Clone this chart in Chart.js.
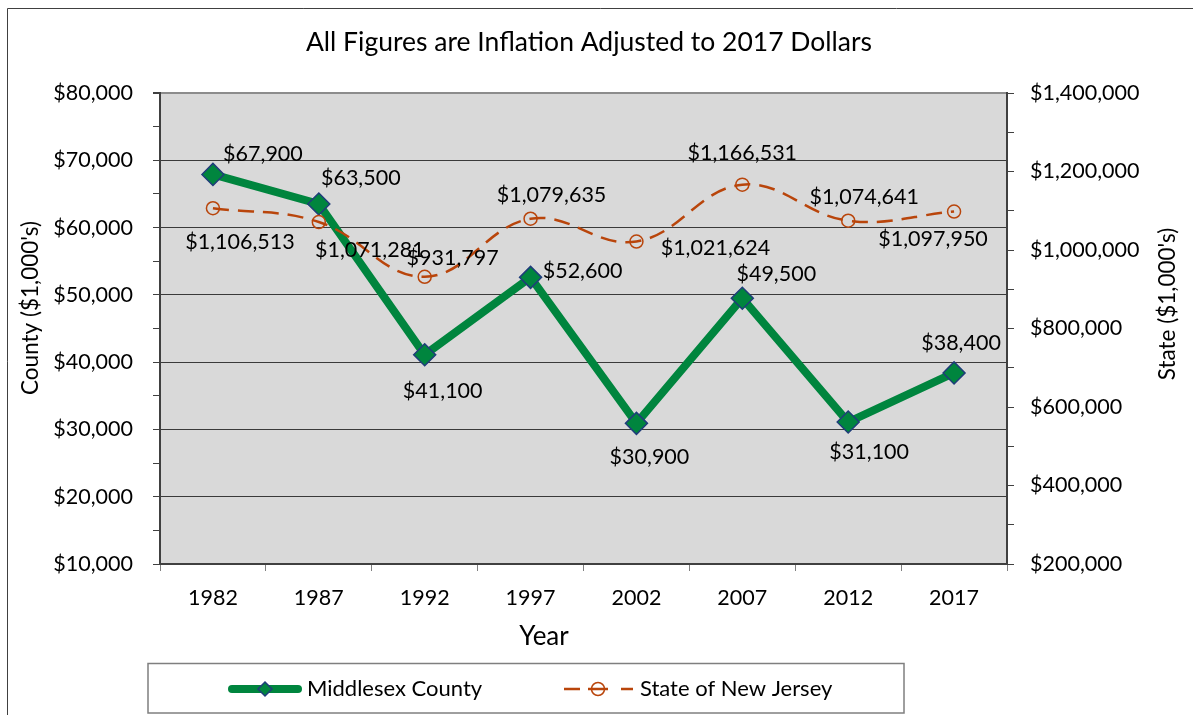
<!DOCTYPE html>
<html><head><meta charset="utf-8">
<script src="https://cdn.jsdelivr.net/npm/chart.js@4.4.0/dist/chart.umd.min.js"></script>
<style>html,body{margin:0;padding:0;background:#fff}canvas{display:block}</style>
</head><body>
<canvas id="c" width="1193" height="715"></canvas>
<script>
// ---- data ----
const years = ['1982','1987','1992','1997','2002','2007','2012','2017'];
const countyValues = [67900, 63500, 41100, 52600, 30900, 49500, 31100, 38400];
const stateValues = [1106513, 1071281, 931797, 1079635, 1021624, 1166531, 1074641, 1097950];
const countyAxisRange = [10000, 80000];
const stateAxisRange = [200000, 1400000];
const titleText = 'All Figures are Inflation Adjusted to 2017 Dollars';
const seriesNames = ['Middlesex County', 'State of New Jersey'];

// ---- styling (label placement offsets, px) ----
const countyLabelOffsets = [[50,-20],[42,-26],[18,36],[52,-6],[13,34],[34,-24],[21,30],[7,-30]];
const stateLabelOffsets = [[27,34],[51,28],[28,-19],[21,-24],[79,7],[0,-32],[16,-24],[-21,28]];

const FONT = 'Lato, "Open Sans", sans-serif';
const GREEN = '#00853e';
const NAVY = '#1f3d7a';
const ORANGE = '#b9450b';
const fmt = v => '$' + Number(v).toLocaleString('en-US');

const decor = {
  id: 'decor',
  beforeDraw(chart) {
    const {ctx, chartArea: a} = chart;
    ctx.save();
    ctx.fillStyle = '#fff';
    ctx.fillRect(0, 0, chart.width, chart.height);
    ctx.fillStyle = '#d9d9d9';
    ctx.fillRect(a.left, a.top, a.right - a.left, a.bottom - a.top);
    ctx.restore();
  },
  afterDraw(chart) {
    const {ctx} = chart;
    ctx.save();
    // outer frame
    ctx.strokeStyle = '#404040';
    ctx.lineWidth = 1;
    ctx.beginPath();
    ctx.moveTo(7.5, 715); ctx.lineTo(7.5, 8.5); ctx.lineTo(1193, 8.5);
    ctx.stroke();
    // title
    ctx.fillStyle = '#000';
    ctx.textAlign = 'center';
    ctx.textBaseline = 'middle';
    ctx.font = '26.5px ' + FONT;
    ctx.fillText(titleText, 589, 42);
    // axis titles
    ctx.font = '26px ' + FONT;
    ctx.fillText('Year', 544, 637);
    ctx.font = '22.5px ' + FONT;
    ctx.save(); ctx.translate(31, 308); ctx.rotate(-Math.PI/2); ctx.fillText("County ($1,000's)", 0, 0); ctx.restore();
    ctx.save(); ctx.translate(1168, 304); ctx.rotate(-Math.PI/2); ctx.fillText("State ($1,000's)", 0, 0); ctx.restore();

    // data labels
    ctx.font = '21.5px ' + FONT;
    const m0 = chart.getDatasetMeta(0).data, m1 = chart.getDatasetMeta(1).data;
    countyValues.forEach((v, i) => {
      const p = m0[i];
      ctx.fillText(fmt(v), p.x + countyLabelOffsets[i][0], p.y + countyLabelOffsets[i][1]);
    });
    stateValues.forEach((v, i) => {
      const p = m1[i];
      ctx.fillText(fmt(v), p.x + stateLabelOffsets[i][0], p.y + stateLabelOffsets[i][1]);
    });

    // legend
    ctx.strokeStyle = '#7f7f7f';
    ctx.lineWidth = 1.5;
    ctx.strokeRect(148, 663.5, 756, 49.5);
    const ly = 689;
    ctx.strokeStyle = GREEN; ctx.lineWidth = 8; ctx.lineCap = 'round';
    ctx.beginPath(); ctx.moveTo(232, ly); ctx.lineTo(298, ly); ctx.stroke();
    ctx.lineCap = 'butt';
    ctx.fillStyle = GREEN; ctx.strokeStyle = NAVY; ctx.lineWidth = 1.5;
    ctx.beginPath(); ctx.moveTo(265, ly - 7); ctx.lineTo(272, ly); ctx.lineTo(265, ly + 7); ctx.lineTo(258, ly); ctx.closePath();
    ctx.fill(); ctx.stroke();
    ctx.strokeStyle = ORANGE; ctx.lineWidth = 2.5;
    ctx.beginPath(); ctx.moveTo(564, ly); ctx.lineTo(580, ly); ctx.moveTo(588, ly); ctx.lineTo(608, ly); ctx.moveTo(621, ly); ctx.lineTo(633, ly); ctx.stroke();
    ctx.lineWidth = 1.5;
    ctx.beginPath(); ctx.arc(598, ly, 6.5, 0, Math.PI * 2); ctx.stroke();
    ctx.fillStyle = '#000';
    ctx.textAlign = 'left';
    ctx.font = '22px ' + FONT;
    ctx.fillText(seriesNames[0], 307, ly);
    ctx.fillText(seriesNames[1], 640, ly);
    ctx.restore();
  }
};

new Chart(document.getElementById('c'), {
  type: 'line',
  data: {
    labels: years,
    datasets: [
      {
        label: seriesNames[0], data: countyValues, yAxisID: 'y', order: 2,
        borderColor: GREEN, borderWidth: 8, tension: 0,
        pointStyle: 'rectRot', pointRadius: 11, pointBackgroundColor: GREEN,
        pointBorderColor: NAVY, pointBorderWidth: 1.5
      },
      {
        label: seriesNames[1], data: stateValues, yAxisID: 'y1', order: 1,
        borderColor: ORANGE, borderWidth: 2.5, borderDash: [16, 9], tension: 0.4,
        pointStyle: 'circle', pointRadius: 6.5, pointBackgroundColor: 'rgba(0,0,0,0)',
        pointBorderColor: ORANGE, pointBorderWidth: 1.5
      }
    ]
  },
  options: {
    responsive: false, devicePixelRatio: 1, animation: false,
    layout: {padding: {top: 93, left: 0, right: 0, bottom: 0}},
    plugins: {legend: {display: false}, title: {display: false}, tooltip: {enabled: false}},
    scales: {
      x: {
        type: 'category', offset: true,
        grid: {offset: true, drawOnChartArea: false, drawTicks: true, tickLength: 7, color: '#808080'},
        border: {color: '#404040', width: 2},
        ticks: {font: {family: FONT, size: 21.5}, color: '#000', padding: 14, maxRotation: 0, autoSkip: false},
        afterFit(s) { s.height = 151; }
      },
      y: {
        position: 'left', min: countyAxisRange[0], max: countyAxisRange[1],
        ticks: {stepSize: 5000, autoSkip: false, callback: v => v % 10000 === 0 ? fmt(v) : '',
          font: {family: FONT, size: 21.5}, color: '#000', padding: 20},
        grid: {
          color: c => (c.tick && c.tick.value % 10000 === 0) ? (c.tick.value === countyAxisRange[1] ? '#8c8c8c' : '#3a3a3a') : 'rgba(0,0,0,0)',
          lineWidth: c => (c.tick && c.tick.value === countyAxisRange[1]) ? 2 : 1,
          tickColor: '#404040', tickLength: 7
        },
        border: {color: '#404040', width: 2},
        afterFit(s) { s.width = 160; }
      },
      y1: {
        position: 'right', min: stateAxisRange[0], max: stateAxisRange[1],
        ticks: {stepSize: 100000, autoSkip: false, callback: v => v % 200000 === 0 ? fmt(v) : '',
          font: {family: FONT, size: 21.5}, color: '#000', padding: 16},
        grid: {drawOnChartArea: false, tickLength: 7, color: '#404040'},
        border: {color: '#404040', width: 2},
        afterFit(s) { s.width = 186; }
      }
    }
  },
  plugins: [decor]
});
</script>
</body></html>
